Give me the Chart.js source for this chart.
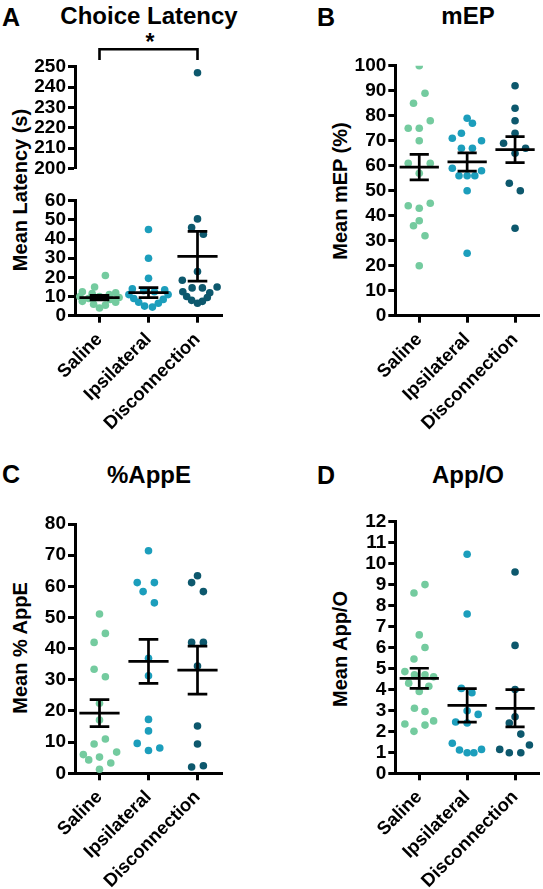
<!DOCTYPE html>
<html><head><meta charset="utf-8">
<script src="https://cdn.jsdelivr.net/npm/chart.js@4.4.0/dist/chart.umd.min.js"></script>
<style>
body{margin:0;background:#fff;width:543px;height:889px;position:relative;overflow:hidden;font-family:"Liberation Sans",Arial,sans-serif;}
canvas{position:absolute;}
.t{position:absolute;font-weight:bold;color:#000;white-space:nowrap;transform:translate(-50%,-50%);line-height:1;font-size:24px;}
.l{position:absolute;font-weight:bold;font-size:25px;transform:translateY(-50%);line-height:1;color:#000;}
.yt{position:absolute;font-weight:bold;font-size:20px;white-space:nowrap;transform:translate(-50%,-50%) rotate(-90deg);line-height:1;color:#000;}
</style></head><body>
<div class="l" style="left:2px;top:16.5px">A</div>
<div class="t" style="left:149px;top:16px">Choice Latency</div>
<div class="l" style="left:317px;top:16.5px">B</div>
<div class="t" style="left:468px;top:16px">mEP</div>
<div class="l" style="left:2px;top:474px">C</div>
<div class="t" style="left:149px;top:475px">%AppE</div>
<div class="l" style="left:317px;top:475px">D</div>
<div class="t" style="left:468px;top:475px">App/O</div>
<div class="t" style="left:150px;top:42px;font-size:23px">*</div>
<div class="yt" style="left:20px;top:190px">Mean Latency (s)</div>
<div class="yt" style="left:340px;top:191px">Mean mEP (%)</div>
<div class="yt" style="left:20px;top:648px">Mean % AppE</div>
<div class="yt" style="left:340px;top:649px">Mean App/O</div>
<canvas id="cAup" width="272" height="170" style="left:0;top:25px"></canvas>
<canvas id="cAlo" width="272" height="270" style="left:0;top:180px"></canvas>
<canvas id="cB" width="271" height="420" style="left:272px;top:30px"></canvas>
<canvas id="cC" width="272" height="399" style="left:0;top:490px"></canvas>
<canvas id="cD" width="271" height="399" style="left:272px;top:490px"></canvas>
<script>
// ---------- DATA ----------
const categories = ['Saline', 'Ipsilateral', 'Disconnection'];
const groupColors = ['#74cb9f', '#1c9ebc', '#0d586d'];

// A: Choice latency (s)
const latSaline = [21, 15, 12.5, 12, 11.5, 11, 10, 10, 9.5, 9, 8.5, 7.5, 7, 6, 5.5, 4];
const latSalineJit = [0.12, -0.1, -0.35, 0.33, -0.15, 0.2, -0.4, 0, 0.4, -0.22, 0.22, -0.35, 0.33, -0.12, 0.12, 0];
const latIpsi = [45, 30, 19.5, 14, 13.5, 13, 12.5, 11, 11, 9, 8.5, 7, 6.5, 5, 4.5];
const latIpsiJit = [0, 0, 0, -0.33, 0.33, -0.1, 0.12, -0.4, 0.4, -0.3, 0.3, -0.2, 0.2, -0.08, 0.08];
const latDisc = [247, 50.5, 46, 42.5, 23, 18.5, 15, 14.5, 14.5, 12.5, 12, 10, 9.5, 8, 7.5, 6.5];
const latDiscJit = [0, 0, -0.12, 0.12, 0, -0.31, 0.4, -0.11, 0.1, -0.3, 0.25, -0.22, 0.2, -0.12, 0.1, 0];
const latMean = [9.4, 12.0, 31.0];
const latSem = [1.2, 2.6, 13.0];
const latTicksUpper = [200, 250, 10];   // min, max, step
const latTicksLower = [0, 60, 10];
const sigPair = [0, 2];

// B: mEP (%)
const mepSaline = [100, 89, 85, 78, 75, 75, 70, 61, 61, 57, 45, 44, 43, 38, 36, 32, 20];
const mepSalineJit = [0, 0.12, -0.12, 0.23, -0.23, 0, 0, -0.23, 0.23, 0, 0.23, -0.23, 0, 0, -0.12, 0.12, 0];
const mepIpsi = [79, 77, 73, 71, 70, 67, 67, 59, 58, 56, 56, 56, 50, 25];
const mepIpsiJit = [0, 0.11, -0.12, -0.31, 0.3, -0.12, 0.11, -0.31, 0.3, -0.17, 0, 0.16, 0, 0];
const mepDisc = [92, 83, 78, 73, 69, 67, 65, 53, 50, 35];
const mepDiscJit = [0, 0, 0, 0, -0.24, 0.22, 0, -0.12, 0.11, 0];
const mepMean = [59.4, 61.5, 66.4];
const mepSem = [5.1, 3.65, 5.2];
const mepTicks = [0, 100, 10];

// C: %AppE
const appeSaline = [51.1, 44.9, 42, 33.4, 31, 22.5, 17.1, 11, 9.4, 6.8, 6, 4.3, 5.2, 3.3, 1.3];
const appeSalineJit = [0, 0.12, -0.11, -0.11, 0.12, 0, 0, 0.12, -0.11, 0.35, -0.33, -0.22, 0, 0.23, 0];
const appeIpsi = [71.4, 61.2, 61.2, 58.3, 54.7, 36.9, 31.3, 17.3, 13.6, 9.6, 8.1, 7.3];
const appeIpsiJit = [0, -0.23, 0.12, -0.11, 0.12, 0, 0, 0, 0, -0.23, 0.23, 0];
const appeDisc = [63.4, 61.2, 58.3, 42, 42, 34.4, 15.2, 9.4, 2, 2.4];
const appeDiscJit = [0, -0.12, 0.12, -0.12, 0.12, 0, 0, 0, -0.12, 0.12];
const appeMean = [19.3, 35.9, 33.1];
const appeSem = [4.35, 7.05, 7.7];
const appeTicks = [0, 80, 10];

// D: App/O
const appoSaline = [9.0, 8.6, 6.6, 6.0, 5.45, 4.85, 4.7, 4.7, 4.6, 4.3, 4.15, 3.9, 3.1, 2.95, 2.5, 2.35, 2.3, 2.0];
const appoSalineJit = [0.12, -0.11, 0, 0.12, -0.11, -0.3, -0.1, 0.12, 0.3, -0.22, 0.2, 0, -0.1, 0.12, 0.3, -0.3, 0.12, -0.11];
const appoIpsi = [10.45, 7.6, 4.05, 3.84, 2.98, 2.81, 2.45, 2.4, 1.43, 1.11, 0.98, 0.98, 1.14];
const appoIpsiJit = [0, 0, -0.12, 0.1, 0, 0.23, -0.24, 0, -0.31, -0.16, 0, 0.14, 0.3];
const appoDisc = [9.6, 6.1, 4.0, 2.7, 2.4, 1.87, 1.35, 1.14, 0.98, 0.98];
const appoDiscJit = [0, 0, 0, 0, -0.12, 0.12, 0.3, -0.32, -0.12, 0.12];
const appoMean = [4.53, 3.24, 3.1];
const appoSem = [0.48, 0.8, 0.89];
const appoTicks = [0, 12, 1];

// ---------- BUILD ----------
Chart.defaults.font.family = "'Liberation Sans', Arial, sans-serif";
const YFONT = {size: 19, weight: 'bold'};
const XFONT = {size: 18.5, weight: 'bold'};

function pointSets(groups, jits) {
  return groups.map((vals, g) => ({
    type: 'scatter',
    data: vals.map((v, j) => ({x: g + jits[g][j], y: v})),
    backgroundColor: groupColors[g],
    borderWidth: 0,
    pointRadius: 3.8,
    order: 1
  }));
}
function errorSet(means, sems) {
  const d = [];
  means.forEach((m, g) => {
    d.push({x: g - 0.41, y: m}, {x: g + 0.41, y: m}, {x: g, y: null});
    d.push({x: g, y: m - sems[g]}, {x: g, y: m + sems[g]}, {x: g, y: null});
    d.push({x: g - 0.2, y: m + sems[g]}, {x: g + 0.2, y: m + sems[g]}, {x: g, y: null});
    d.push({x: g - 0.2, y: m - sems[g]}, {x: g + 0.2, y: m - sems[g]}, {x: g, y: null});
  });
  return {type: 'scatter', data: d, showLine: true, spanGaps: false, borderColor: '#000',
          borderWidth: 2.7, pointRadius: 0, order: 0};
}

const bracketPlugin = {
  id: 'bracket',
  afterDraw(chart) {
    if (!chart.options.plugins.bracket || !chart.options.plugins.bracket.on) return;
    const {ctx, chartArea} = chart;
    const xs = chart.scales.x;
    const x0 = xs.getPixelForValue(sigPair[0]), x1 = xs.getPixelForValue(sigPair[1]);
    const yTop = chartArea.top - 17.4, yLeg = chartArea.top - 6.7;
    ctx.save();
    ctx.strokeStyle = '#000'; ctx.lineWidth = 2.6; ctx.lineJoin = 'miter';
    ctx.beginPath(); ctx.moveTo(x0, yLeg); ctx.lineTo(x0, yTop); ctx.lineTo(x1, yTop); ctx.lineTo(x1, yLeg);
    ctx.stroke(); ctx.restore();
  }
};

function makeChart(id, box, area, ticks, datasets, showX, bracket) {
  const padTop = area.t - box.top;
  const padRight = box.left + box.width - area.r;
  const yW = area.l - box.left;
  const xH = box.top + box.height - area.b;
  new Chart(document.getElementById(id), {
    type: 'scatter',
    data: {datasets},
    plugins: [bracketPlugin],
    options: {
      responsive: false, animation: false, devicePixelRatio: 1, events: [],
      layout: {padding: {top: padTop, right: padRight, left: 0, bottom: showX ? 0 : xH}},
      plugins: {legend: {display: false}, tooltip: {enabled: false}, bracket: {on: !!bracket}},
      scales: {
        x: {
          type: 'linear', min: -0.5, max: 2.5, display: showX,
          afterBuildTicks: s => { s.ticks = categories.map((c, i) => ({value: i})); },
          afterFit: s => { s.height = xH; },
          ticks: {autoSkip: false, maxRotation: 45, minRotation: 45, color: '#000', font: XFONT, padding: 6,
                  callback: v => categories[v] !== undefined ? categories[v] : ''},
          grid: {display: true, drawOnChartArea: false, drawTicks: true, tickLength: 7, tickWidth: 3, tickColor: '#000'},
          border: {display: true, color: '#000', width: 3}
        },
        y: {
          min: ticks[0], max: ticks[1],
          afterFit: s => { s.width = yW; },
          ticks: {stepSize: ticks[2], autoSkip: false, color: '#000', font: YFONT, padding: 2},
          grid: {display: true, drawOnChartArea: false, drawTicks: true, tickLength: 7, tickWidth: 3, tickColor: '#000'},
          border: {display: true, color: '#000', width: 3}
        }
      }
    }
  });
}

const latPts = () => pointSets([latSaline, latIpsi, latDisc], [latSalineJit, latIpsiJit, latDiscJit]);
makeChart('cAup', {left: 0, top: 25, width: 272, height: 170}, {l: 75, r: 222, t: 66.7, b: 181.7},
  latTicksUpper, [errorSet(latMean, latSem), ...latPts()], false, true);
makeChart('cAlo', {left: 0, top: 180, width: 272, height: 270}, {l: 75, r: 222, t: 200.7, b: 315.7},
  latTicksLower, [errorSet(latMean, latSem), ...latPts()], true, false);
makeChart('cB', {left: 272, top: 30, width: 271, height: 420}, {l: 395.3, r: 541.6, t: 65.7, b: 315.7},
  mepTicks, [errorSet(mepMean, mepSem), ...pointSets([mepSaline, mepIpsi, mepDisc], [mepSalineJit, mepIpsiJit, mepDiscJit])], true, false);
makeChart('cC', {left: 0, top: 490, width: 272, height: 399}, {l: 75, r: 222, t: 524, b: 773.3},
  appeTicks, [errorSet(appeMean, appeSem), ...pointSets([appeSaline, appeIpsi, appeDisc], [appeSalineJit, appeIpsiJit, appeDiscJit])], true, false);
makeChart('cD', {left: 272, top: 490, width: 271, height: 399}, {l: 395.3, r: 541.6, t: 521.7, b: 773.3},
  appoTicks, [errorSet(appoMean, appoSem), ...pointSets([appoSaline, appoIpsi, appoDisc], [appoSalineJit, appoIpsiJit, appoDiscJit])], true, false);
</script>
</body></html>
